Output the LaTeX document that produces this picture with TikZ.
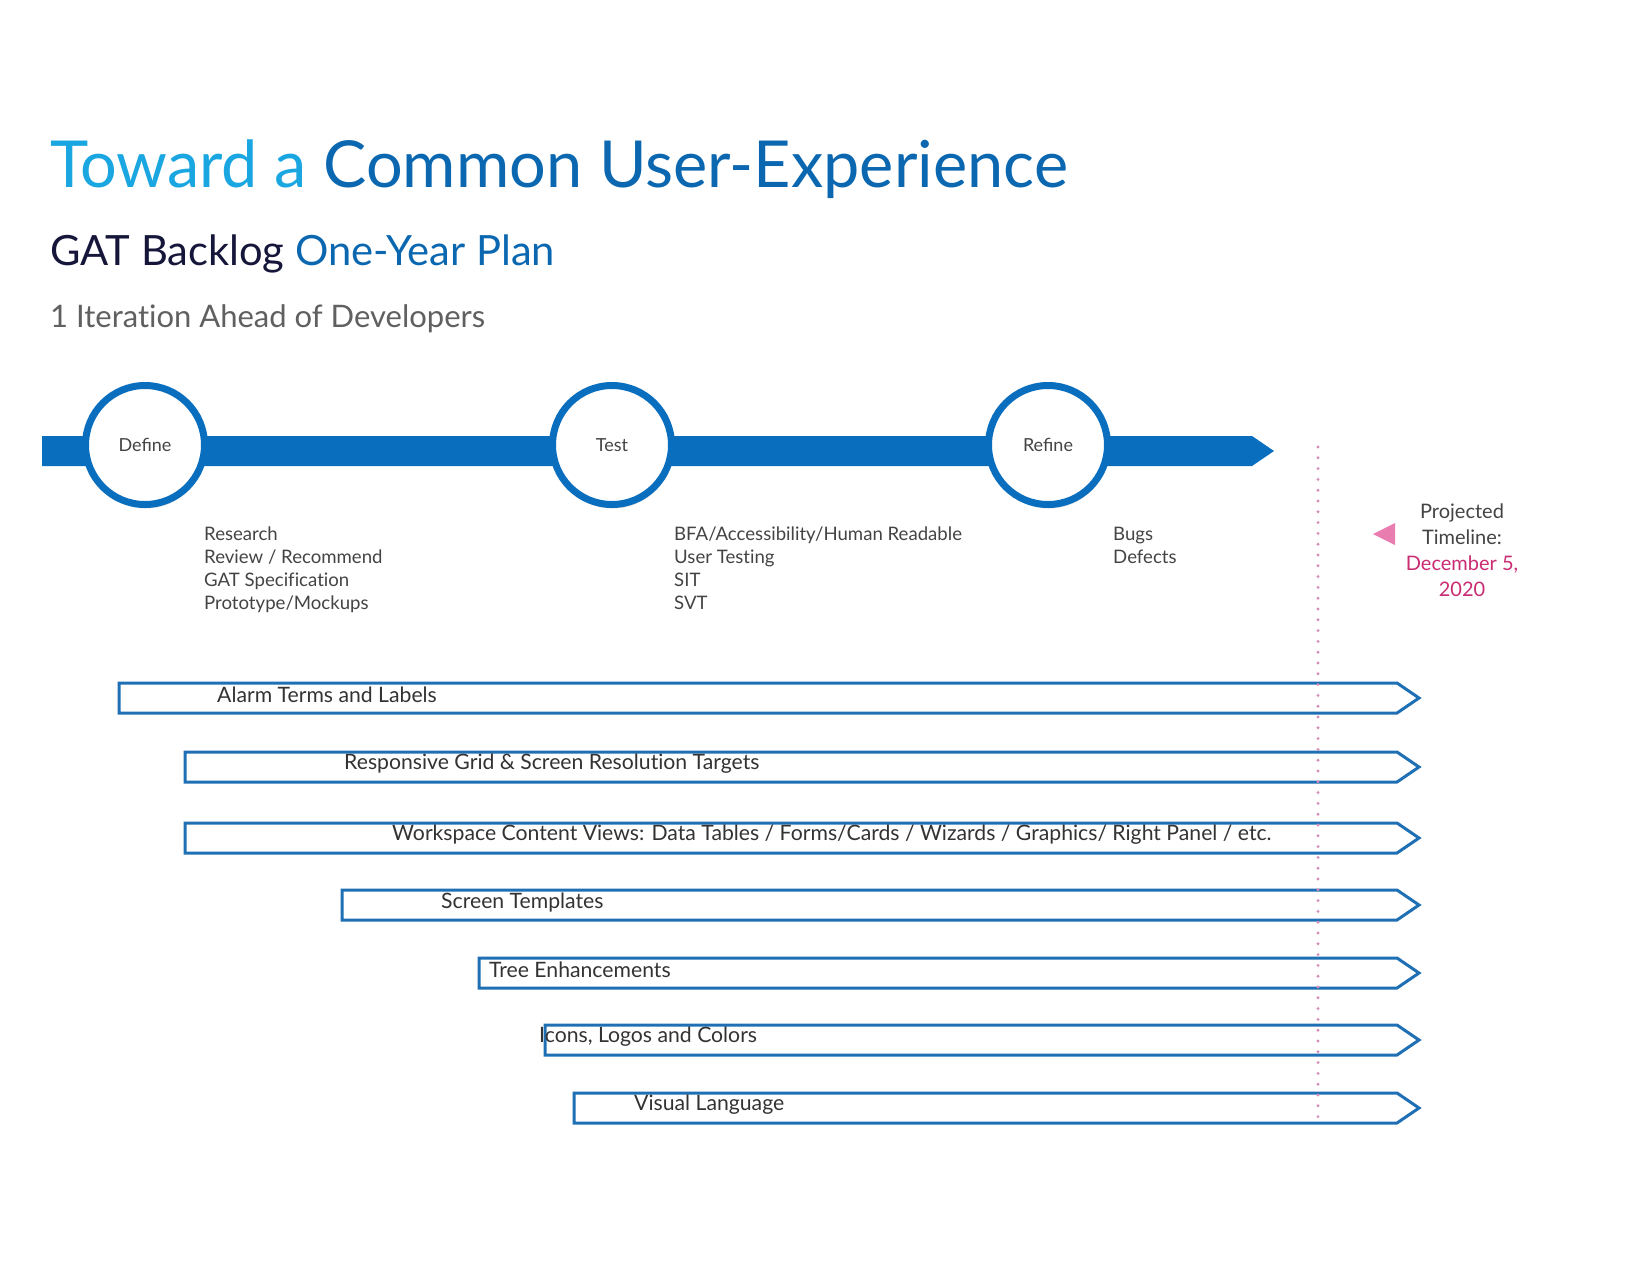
\documentclass[tikz,border=0pt]{standalone}
\usepackage{fontspec}
\setmainfont{Lato}[Ligatures=NoCommon]
\newfontfamily\ligfont{Lato}
\usetikzlibrary{shadows}
\definecolor{lightblue}{HTML}{1AA6E0}
\definecolor{midblue}{HTML}{0B68B0}
\definecolor{barblue}{HTML}{0A6EBF}
\definecolor{outlineblue}{HTML}{1F6FB5}
\definecolor{navy}{HTML}{16163A}
\definecolor{txtgray}{HTML}{444444}
\definecolor{subgray}{HTML}{606060}
\definecolor{pinkdot}{HTML}{D48DB6}
\definecolor{pinktri}{HTML}{E97DB0}
\definecolor{datemag}{HTML}{C92C72}
\tikzset{
  stage/.style={circle, draw=barblue, line width=7pt, fill=white, minimum size=119pt,
    inner sep=0pt, text=txtgray, font=\ligfont\fontsize{18}{20}\selectfont,
    drop shadow={opacity=0.25, shadow xshift=1pt, shadow yshift=-4pt}},
  listtext/.style={anchor=north west, inner sep=0pt, align=left, text=txtgray,
    font=\fontsize{18.6}{22.7}\selectfont},
  barshape/.style={draw=outlineblue, line width=3pt, fill=white, line join=miter},
  bartext/.style={anchor=west, inner sep=0pt, text=black!80, font=\fontsize{21.2}{24}\selectfont},
}
\begin{document}
\begin{tikzpicture}[x=1pt,y=-1pt]
\useasboundingbox (0,0) rectangle (1650,1275);
\fill[white] (0,0) rectangle (1650,1275);

% headings
\node[anchor=base west, inner sep=0pt] (title) at (50,187)
  {\fontsize{64.8}{70}\selectfont\color{lightblue}Toward a \color{midblue}Common User-Experience};
\node[anchor=base west, inner sep=0pt] (subtitle) at (50,265)
  {\fontsize{41.7}{44}\selectfont\color{navy}GAT Backlog \color{midblue}One-Year Plan};
\node[anchor=base west, inner sep=0pt, text=subgray] (iter) at (50,327)
  {\fontsize{31}{34}\selectfont 1 Iteration Ahead of Developers};

% timeline
\fill[barblue] (42,436) -- (1252,436) -- (1274,451) -- (1252,466) -- (42,466) -- cycle;
\node[stage] (define) at (145,445) {Define};
\node[stage] (test) at (612,445) {Test};
\node[stage] (refine) at (1048,445) {Refine};

\node[listtext] (deflist) at (204,527) {Research\\Review / Recommend\\GAT Specification\\Prototype/Mockups};
\node[listtext] (testlist) at (674,527) {BFA/Accessibility/Human Readable\\User Testing\\SIT\\SVT};
\node[listtext] (reflist) at (1113,527) {Bugs\\Defects};

% backlog bars
\foreach \yc/\xl/\xt/\t [count=\i] in {
  698/119/217/{Alarm Terms and Labels},
  767/185/344/{Responsive Grid \& Screen Resolution Targets},
  838/185/392/{Workspace Content Views: Data Tables / Forms/Cards / Wizards / Graphics/ Right Panel / etc.},
  905/342/441/{Screen Templates},
  973/479/489/{Tree Enhancements},
  1040/545/539/{Icons, Logos and Colors},
  1108/574/634/{Visual Language}}{
  \draw[barshape] (\xl,\yc-15) -- (1397,\yc-15) -- (1419,\yc) -- (1397,\yc+15) -- (\xl,\yc+15) -- cycle;
  \node[bartext] (bar\i) at (\xt,\yc-3) {\t};
}

% projected timeline marker
\coordinate (dtop) at (1318,447);
\coordinate (dbot) at (1318,1117);
\draw[pinkdot, line width=3.2pt, line cap=round, dash pattern=on 0pt off 10.8pt] (dtop) -- (dbot);
\fill[pinktri] (1373,534) -- (1395,523) -- (1395,545) -- cycle;
\node[align=center, inner sep=0pt, text=txtgray, font=\fontsize{20}{26}\selectfont] (proj) at (1462,550)
  {Projected\\Timeline:\\\textcolor{datemag}{December 5,}\\\textcolor{datemag}{2020}};
\end{tikzpicture}
\end{document}
